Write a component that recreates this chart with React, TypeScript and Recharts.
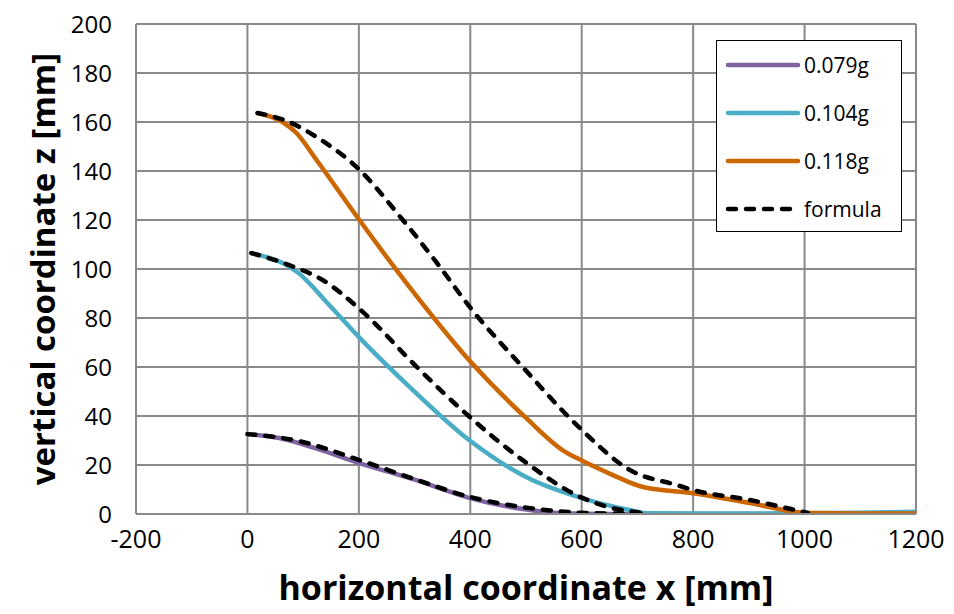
import {
  LineChart,
  Line,
  XAxis,
  YAxis,
  CartesianGrid,
  Label,
} from "recharts";

// horizontal coordinate x [mm] / vertical coordinate z [mm]
const x079 = [0, 57, 120, 201, 300, 399, 507, 566, 650, 800, 1000, 1200];
const z079 = [32.6, 31, 27, 20.8, 14, 6.5, 1.6, 0.3, 0, 0, 0, 0];

const x104 = [7, 63, 88, 150, 201, 297, 399, 501, 600, 686, 717, 900, 1100, 1200];
const z104 = [106.5, 102.4, 99, 84.5, 72, 50.6, 30, 15, 6.5, 1.6, 0.3, 0.2, 0.5, 0.9];

const x118 = [18, 63, 88, 124, 201, 291, 401, 501, 566, 602, 650, 710, 800, 902, 1005, 1100, 1200];
const z118 = [163.7, 160, 155.5, 144.5, 120, 92.6, 62, 39, 26, 21.6, 16.5, 11, 8.5, 4.5, 0.4, 0.2, 0.2];

// formula curves (one per acceleration)
const xF079 = [0, 88, 201, 304, 399, 507, 597, 650, 717];
const zF079 = [32.6, 30, 22, 13.9, 7, 2.4, 0.5, 0.2, 0.2];

const xF104 = [7, 75, 135, 207, 304, 399, 494, 597, 645, 710];
const zF104 = [106.5, 101.6, 95.5, 82.5, 60, 39.6, 22, 7, 3, 0.4];

const xF118 = [18, 75, 130, 196, 279, 340, 399, 494, 597, 686, 771, 800, 902, 1006];
const zF118 = [163.7, 160, 153, 141.6, 120, 102.5, 84.5, 60, 35, 18, 11.8, 9.8, 5.7, 0.4];

const xTicks = [-200, 0, 200, 400, 600, 800, 1000, 1200];
const yTicks = [0, 20, 40, 60, 80, 100, 120, 140, 160, 180, 200];

const toPoints = (xs: number[], zs: number[]) => xs.map((x, i) => ({ x, z: zs[i] }));

const measured = [
  { name: "0.079g", color: "#8064A2", data: toPoints(x079, z079) },
  { name: "0.104g", color: "#4BACC6", data: toPoints(x104, z104) },
  { name: "0.118g", color: "#CC6600", data: toPoints(x118, z118) },
];

const formula = [
  { name: "f079", data: toPoints(xF079, zF079) },
  { name: "f104", data: toPoints(xF104, zF104) },
  { name: "f118", data: toPoints(xF118, zF118) },
];

const FONT = "'Open Sans', 'Liberation Sans', sans-serif";
const GRID = "#898989";

function LegendBox() {
  const items = [
    ...measured.map((m) => ({ name: m.name, color: m.color, dashed: false })),
    { name: "formula", color: "#000", dashed: true },
  ];
  return (
    <div
      style={{
        position: "absolute",
        left: 716,
        top: 40,
        width: 186,
        height: 192,
        border: "1.5px solid #000",
        background: "#fff",
        boxSizing: "border-box",
        fontFamily: FONT,
        fontSize: 21,
        color: "#000",
      }}
    >
      {items.map((it) => (
        <div
          key={it.name}
          style={{ display: "flex", alignItems: "center", height: 48, paddingLeft: 8 }}
        >
          <svg width={76} height={10}>
            <line
              x1={3}
              x2={73}
              y1={5}
              y2={5}
              stroke={it.color}
              strokeWidth={4.5}
              strokeLinecap="round"
              strokeDasharray={it.dashed ? "8 10" : undefined}
            />
          </svg>
          <span style={{ marginLeft: 3 }}>{it.name}</span>
        </div>
      ))}
    </div>
  );
}

export default function App() {
  return (
    <div style={{ position: "absolute", left: 0, top: 0, width: 954, height: 614, background: "#fff" }}>
      <LineChart
        width={954}
        height={614}
        margin={{ top: 24, right: 38, left: 0, bottom: 0 }}
      >
        <CartesianGrid stroke={GRID} strokeWidth={2} />
        <XAxis
          type="number"
          dataKey="x"
          domain={[-200, 1200]}
          ticks={xTicks}
          interval={0}
          allowDataOverflow
          height={100}
          axisLine={{ stroke: GRID, strokeWidth: 2 }}
          tickLine={false}
          tickSize={0}
          tickMargin={16}
          tick={{ fill: "#000", fontSize: 25, fontFamily: FONT }}
        >
          <Label
            value="horizontal coordinate x [mm]"
            position="insideBottom"
            offset={14}
            style={{ fill: "#000", fontSize: 34, fontWeight: 700, fontFamily: FONT }}
          />
        </XAxis>
        <YAxis
          type="number"
          dataKey="z"
          domain={[0, 200]}
          ticks={yTicks}
          interval={0}
          allowDataOverflow
          width={136}
          axisLine={false}
          tickLine={false}
          tickSize={0}
          tickMargin={24}
          tick={{ fill: "#000", fontSize: 24, fontFamily: FONT }}
        >
          <Label
            content={(props: any) => {
              const vb = props.viewBox;
              const cx = vb.x + 42;
              const cy = vb.y + vb.height / 2;
              return (
                <text
                  x={cx}
                  y={cy}
                  transform={`rotate(-90 ${cx} ${cy})`}
                  textAnchor="middle"
                  dominantBaseline="central"
                  style={{ fill: "#000", fontSize: 33, fontWeight: 700, fontFamily: FONT }}
                >
                  vertical coordinate z [mm]
                </text>
              );
            }}
          />
        </YAxis>
        {measured.map((m) => (
          <Line
            key={m.name}
            data={m.data}
            dataKey="z"
            name={m.name}
            type="monotone"
            stroke={m.color}
            strokeWidth={4.5}
            dot={false}
            isAnimationActive={false}
          />
        ))}
        {formula.map((f) => (
          <Line
            key={f.name}
            data={f.data}
            dataKey="z"
            name={f.name}
            type="monotone"
            stroke="#000"
            strokeWidth={4.5}
            strokeDasharray="8 10"
            strokeLinecap="round"
            dot={false}
            isAnimationActive={false}
          />
        ))}
      </LineChart>
      <LegendBox />
    </div>
  );
}
